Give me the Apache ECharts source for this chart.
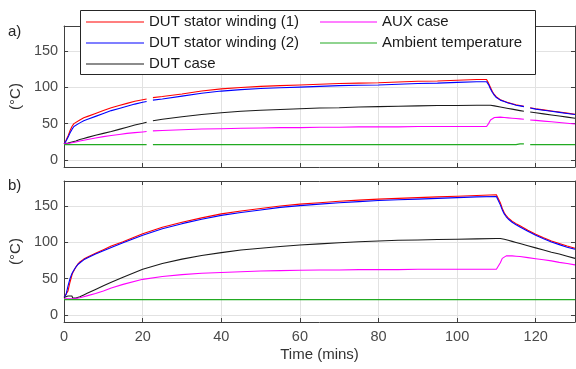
<!DOCTYPE html>
<html><head><meta charset="utf-8">
<script src="https://cdn.jsdelivr.net/npm/echarts@6/dist/echarts.min.js"></script>
<style>html,body{margin:0;padding:0;background:#fff}#c{width:576px;height:369px}</style>
</head><body><div id="c"></div>
<script>
// ---- subplot a) ----
const tA = [0,0.5,1,1.5,2,2.5,3,4,5,6, 8,10,12,14,16,18,20,21,21.8,22.6, 25,30,35,40,45,50,55,60,65,70, 75,80,85,90,95,100,105,107.5,108,108.5, 109,109.5,110,111,112,113,114,115,116,117, 117.8,118.6,120,122,124,126,128,130];
const redA = [22,27,33,40,46,50,52,55,58,60, 64,68,72,75,78,81,83,84,null,86, 87.5,91,95,98,100,101.5,102.5,103.5,104.5,105.5, 106,106.5,107.5,108.5,109,110,111,111,106,100, 94,90,87,83,81,79,77.5,76,75,74, null,72,70.5,69,67.5,66,64.5,63];
const blueA = [22,26,31,37,42,46,48,51,54,56, 60,64,68,71,74,77,79.5,80.5,null,82.5, 84,88,92,95,97,98.5,99.5,100.5,101.5,102.5, 103,103.5,104.5,105.5,106,107,108,108,104,98, 93,89,86,82.5,80.5,78.5,77,75.5,74.5,73.5, null,71.5,70,68.5,67,65.5,64,62.5];
const blackA = [22,22.5,23,23.5,24.5,25,26,28,29.5,31, 34,36.5,39,42,45,48,50.5,52,null,54, 56,59.5,62.5,65,67,68.5,69.5,70.5,71.5,72, 73,73.5,74,74.5,75,75,75.5,75.5,75.5,75.5, 75,74.5,74,73,72,71,70,69,68,67, null,66,65,63.5,62,60.5,59,57.5];
const magA = [22,22,22.5,23,23.5,24,24.5,26,27,28, 30,32,33.5,35,36.5,37.5,38.5,39,null,40, 40.5,41.5,42.5,43,43.5,44,44.5,44.5,45,45, 45.5,45.5,45.5,46,46,46,46,46,50,55, 57.5,58.5,59,59,58.5,58,57.5,57,56.5,56, null,55,54.5,53.5,52.5,51.5,50.5,49.5];
const greenA = [21,21,21,21,21,21,21,21,21,21, 21,21,21,21,21,21,21,21,null,21, 21,21,21,21,21,21,21,21,21,21, 21,21,21,21,21,21,21,21,21,21, 21,21,21,21,21,21,21,21,22,22, null,21,21,21,21,21,21,21];

// ---- subplot b) ----
const tB = [0,0.5,1,1.5,2,2.2,2.5,3,3.5,4, 5,6,8,10,12,15,20,25,30,35, 40,45,50,55,60,65,70,75,80,85, 90,95,100,105,110,110.5,111,111.5,112,112.5, 113,114,115,116,118,120,122,124,126,128, 130];
const redB = [24,25,33,45,55,58,61,66,70,73, 77,80,85,90,95,101,112,121,128,134, 139.5,143.5,147,150.5,153,155,157,158.5,160,161, 162,163,164,165,166,166,155,147,141,137, 134,129.5,126,123,117,111.5,106.5,102,98.5,95, 92];
const blueB = [24,28,40,50,57,59.5,62,66,69.5,72, 76,79,84,88.5,93,99.5,110,119,126,132, 137.5,141.5,145,148.5,151,153,155,156.5,158,159, 160,161,162,163,163.5,163.5,152,145,139.5,135.5, 132.5,128,124.5,121.5,115.5,110,105,100.5,97,93.5, 90.5];
const blackB = [24,26,26,26,26,23,23,23,24,25, 27.5,30,35,40,45,52,63,71,77,82, 86,89.5,92,94.5,96.5,98,99.5,101,102,103, 103.5,104,104.5,105,105.5,105.5,105.5,105,104.5,104, 103,101.5,100,98.5,95.5,92.5,89.5,86.5,84,81, 78];
const magB = [22,22,22,22,22,22,22,22.5,23,23.5, 25,26.5,29.5,33,37,42,49,53,55.5,57.5, 58.5,59.5,60.5,61,61.5,62,62,62.5,62.5,62.5, 63,63,63,63,63,63,72,78,80.5,81.5, 82,81.5,81,80.5,79,77.5,76,74.5,72.5,71, 69];
const greenB = [21,21,21,21,21,21,21,21,21,21, 21,21,21,21,21,21,21,21,21,21, 21,21,21,21,21,21,21,21,21,21, 21,21,21,21,21,21,21,21,21,21, 21,21,21,21,21,21,21,21,21,21, 21];

const yTicks = [0, 50, 100, 150];
const names = ['DUT stator winding (1)','DUT stator winding (2)','DUT case','AUX case','Ambient temperature'];
const colors = ['#ff0000','#0000ff','#1a1a1a','#ff00ff','#22aa22'];

const FONT = "'Liberation Sans', Arial, sans-serif";
const AX = '#404040', TXT = '#4a4a4a', GRID = '#e2e2e2';

function pairs(t, v){ return t.map((x,i)=>[x, v[i]==null ? '-' : v[i]]); }

function xAx(grid, pos, labels){
  return {type:'value', gridIndex:grid, position:pos, min:0, max:130, interval:20,
    axisLine:{show:true, onZero:false, lineStyle:{color:AX}},
    axisTick:{show:true, inside:true, length:4, lineStyle:{color:AX}},
    axisLabel:{show:labels, showMaxLabel:false, color:TXT, fontSize:14.5, fontFamily:FONT, margin:7},
    splitLine:{show:pos==='bottom', lineStyle:{color:GRID}},
    name: (labels ? 'Time (mins)' : ''), nameLocation:'middle', nameGap:25,
    nameTextStyle:{color:'#333', fontSize:15, fontFamily:FONT}};
}
function yAx(grid, pos){
  const left = pos==='left';
  return {type:'value', gridIndex:grid, position:pos, min:-10, max:185,
    axisLine:{show:true, onZero:false, lineStyle:{color:AX}},
    axisTick:{show:true, inside:true, length:4, customValues:yTicks, lineStyle:{color:AX}},
    axisLabel:{show:left, customValues:yTicks, color:TXT, fontSize:14.5, fontFamily:FONT, margin:6},
    splitLine:{show:left, lineStyle:{color:GRID}},
    name: left ? '(°C)' : '', nameLocation:'middle', nameRotate:90, nameGap:33,
    nameTextStyle:{color:'#333', fontSize:15, fontFamily:FONT}};
}
function line(name, color, xi, yi, data, z){
  return {type:'line', name, xAxisIndex:xi, yAxisIndex:yi, data, symbol:'none', showSymbol:false,
    connectNulls:false, z, lineStyle:{color, width:1.1}, itemStyle:{color}};
}
const dataA = [redA, blueA, blackA, magA, greenA];
const dataB = [redB, blueB, blackB, magB, greenB];
const series = [];
names.forEach((n,i)=>series.push(line(n, colors[i], 0, 0, pairs(tA, dataA[i]), 2)));
names.forEach((n,i)=>series.push(line(n, colors[i], 2, 2, pairs(tB, dataB[i]), 2)));

const legendCommon = {orient:'vertical', top:14, padding:0, icon:'rect', itemHeight:1.2, itemGap:5,
  selectedMode:false, z:10, textStyle:{fontSize:15, lineHeight:16, color:'#1a1a1a', fontFamily:FONT}};

const chart = echarts.init(document.getElementById('c'), null, {renderer:'canvas'});
chart.setOption({
  animation:false,
  backgroundColor:'#ffffff',
  grid:[
    {left:63, top:26, width:512, height:141},
    {left:63, top:181, width:512, height:141}
  ],
  xAxis:[xAx(0,'bottom',false), xAx(0,'top',false), xAx(1,'bottom',true), xAx(1,'top',false)],
  yAxis:[yAx(0,'left'), yAx(0,'right'), yAx(1,'left'), yAx(1,'right')],
  legend:[
    Object.assign({data:names.slice(0,3), left:86, itemWidth:58}, legendCommon),
    Object.assign({data:names.slice(3), left:320, itemWidth:57}, legendCommon)
  ],
  graphic:[
    {type:'rect', z:5, shape:{x:80.5, y:10.5, width:455, height:64}, style:{fill:'#fff', stroke:'#262626', lineWidth:1}},
    {type:'text', z:5, left:8, top:24, style:{text:'a)', fontSize:15, fontFamily:FONT, fill:'#262626'}},
    {type:'text', z:5, left:8, top:178, style:{text:'b)', fontSize:15, fontFamily:FONT, fill:'#262626'}}
  ],
  series
});
</script></body></html>
